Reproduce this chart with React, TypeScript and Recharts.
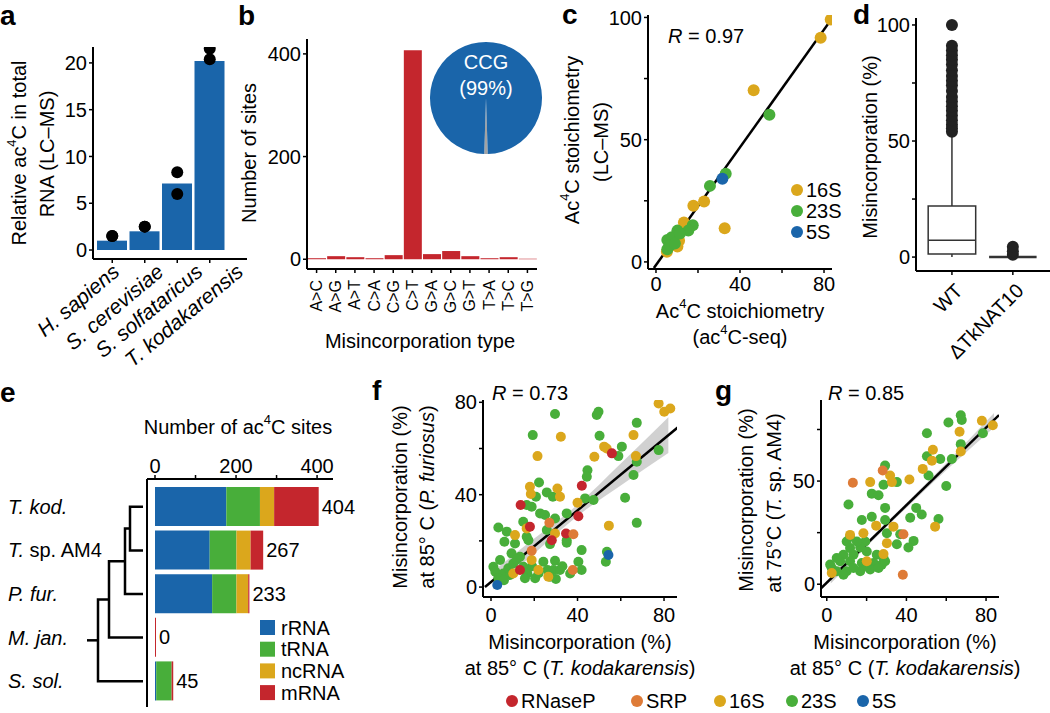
import React from 'react';
import {
  ComposedChart,
  BarChart,
  PieChart,
  Pie,
  Cell,
  Bar,
  Line,
  Area,
  Scatter,
  XAxis,
  YAxis,
  ReferenceArea,
  ReferenceLine,
  LabelList,
} from 'recharts';

const FONT = '"Liberation Sans", Arial, Helvetica, sans-serif';
const BLUE = '#1a65aa';
const RED = '#c4262d';
const GREEN = '#48ae3a';
const GOLD = '#dba71c';
const ORANGE = '#de7b37';

// ---- a: LC-MS ac4C levels
const speciesA = ['H. sapiens', 'S. cerevisiae', 'S. solfataricus', 'T. kodakarensis'];
const ac4cMean = [1.0, 2.0, 7.1, 20.2];
const ac4cRep1 = [1.5, 2.5, 8.3, 21.5];
const ac4cRep2 = [1.5, 2.5, 6.0, 20.4];

// ---- b: misincorporation types
const misTypes = ['A>C', 'A>G', 'A>T', 'C>A', 'C>G', 'C>T', 'G>A', 'G>C', 'G>T', 'T>A', 'T>C', 'T>G'];
const misCounts = [2, 6, 4, 2, 8, 407, 10, 16, 6, 2, 4, 1];
const motifNames = ['other', 'CCG'];
const motifShare = [1, 99];

// ---- c: stoichiometry, [ac4C-seq, LC-MS]
const c16S = [[83.2, 99.2], [78.4, 91.7], [46.5, 70.2], [22.9, 24.7], [17.8, 23], [32.7, 13.8], [13.3, 16.1], [11, 8.7], [10.2, 6.3], [5.2, 4.2]];
const c23S = [[54, 60.2], [33.2, 36.1], [25.7, 31.1], [17.5, 15], [15.4, 12.8], [10.2, 12.8], [5.4, 9], [7.5, 10.1], [5.4, 5.2], [6.8, 6.9], [9, 7.5], [11.4, 11.6]];
const c5S = [[31.6, 34]];
const cFit = [[-1, -2.5], [83.8, 99.6]];

// ---- d: boxplots [low, q1, median, q3, high]
const genotypes = ['WT', '\u0394TkNAT10'];
const boxStats = [[0, 1.3, 7.3, 22, 53], [0, 0, 0, 0, 0]];
const wtOutliers = [54, 55.5, 57, 59, 61, 63, 65, 67, 69, 71.5, 74, 76, 78, 80.5, 83, 85, 87, 89, 91, 100];
const mutOutliers = [1, 2.5, 4.5];

// ---- e: ac4C sites per species
const eSpecies = ['T. kod.', 'T. sp. AM4', 'P. fur.', 'M. jan.', 'S. sol.'];
const rRNA = [176, 135, 141, 0, 3];
const tRNA = [83, 66, 60, 0, 38];
const ncRNA = [35, 35, 29, 0, 0];
const mRNA = [110, 31, 3, 0, 4];
const siteTotals = [404, 267, 233, 0, 45];
// dendrogram merges: [child, child, height]; ids 0-4 leaves, 5+ merged nodes
const treeMerges = [[0, 1, 13], [5, 2, 18], [6, 3, 34], [7, 4, 45]];
const treeRootStub = 56;

// ---- f: P. furiosus vs T. kodakarensis
const f23S = [[29.6, 74.9], [49.7, 75.9], [48.9, 74.5], [67.4, 71.1], [19.3, 65.8], [50.2, 65.5], [60.5, 60.8], [58.9, 56.7], [77.5, 59.3], [67.4, 54.3], [44.6, 50.6], [44.3, 47.8], [65.9, 48.5], [22.2, 45.3], [25.8, 41], [28.6, 39.1], [20.8, 39.1], [43.5, 38.4], [47.4, 37.7], [62, 38.7], [16.5, 35.5], [18.8, 34.8], [22.7, 31.9], [25, 31.2], [35, 31.9], [67.4, 27.8], [14.9, 28.3], [29.6, 29.7], [3.4, 25.8], [7.3, 24], [16.5, 21.8], [25.8, 24.7], [6.2, 19.6], [11.1, 18.9], [17.3, 20.3], [27.3, 18.6], [35, 20.3], [35, 19.2], [41.9, 16], [9.5, 14.6], [13.4, 13.1], [4.2, 11.7], [1.1, 8.8], [2, 6.6], [5.7, 5.9], [8, 8.1], [10.3, 10.2], [15, 8.8], [16.8, 5.9], [20.4, 3.8], [24.2, 11], [26.1, 7.4], [29.6, 11.4], [28.9, 7.4], [31.9, 7.4], [27.3, 4.5], [36.6, 5.9], [40.4, 11], [41.9, 7.4], [53.1, 11], [53.6, 15.3], [15.7, 3.8], [3.4, 3.8], [8.8, 5.2], [12, 12], [6, 3], [19, 9], [22, 6], [33, 9], [30, 3.5]];
const f16S = [[77.5, 79.5], [80.1, 75.9], [82.9, 77.3], [32.3, 65.1], [21.5, 56.7], [65.9, 65.8], [52.3, 60.8], [53.5, 60], [47.8, 56.4], [67, 56.7], [18, 43.4], [30.7, 42.7], [31.9, 39.1], [18.4, 40.3], [40, 36.5], [54.5, 26.6], [11.1, 22.5], [16.5, 25.4], [29.6, 23.2], [18.8, 11.7], [21.9, 7.4], [10.3, 5.9], [26.5, 4.5]];
const fRNaseP = [[55.9, 57.9], [42, 43.9], [13.7, 35.5], [40.4, 30.7], [18, 26.1], [34.7, 23.2], [28.1, 20.3], [13.4, 7.4]];
const fSRP = [[27, 27.8], [38.1, 22.9], [37.8, 7.4], [18.8, 15.7]];
const f5S = [[54.3, 13.9], [2.9, 0.9]];
const fFit = [[-2.8, 0], [86.3, 69.1]];
const fBand = [[1, -1, 7], [20, 14.5, 21], [40, 30.8, 35.6], [60, 44, 53.5], [82, 58, 73.5]];

// ---- g: T. sp. AM4 vs T. kodakarensis
const g23S = [[67.3, 81.9], [67.8, 79.6], [61.1, 78.4], [50.3, 73.2], [78.4, 73.2], [67.3, 67.9], [50.3, 62], [57, 60.7], [62.8, 60.7], [51.1, 52.7], [60, 47.6], [29.3, 57.5], [35.2, 49.5], [28.5, 48.2], [22.6, 43.9], [26, 43.1], [10.9, 38.6], [29.3, 37], [44.9, 37], [47.7, 33.8], [41.9, 32.2], [17.6, 31.1], [22.6, 32.7], [29.3, 31.1], [56.1, 31.6], [11.7, 23.1], [30.2, 24.7], [36.9, 24.2], [43.6, 21], [41, 17.8], [35.2, 19.4], [19.3, 20.7], [16.8, 17.8], [11.7, 17.5], [8.4, 14.3], [13.4, 14.3], [20.1, 15.9], [25.1, 14.3], [28.5, 12.7], [6.7, 11.1], [11.7, 11.1], [17.6, 10.3], [23.5, 10.3], [27.6, 9.5], [2.5, 7.9], [5, 6.3], [10, 6.3], [16.8, 6.3], [21.8, 7.1], [26, 7.9], [1.7, 9.5], [8.4, 4.6], [13.4, 7.9], [20.1, 8.7], [29.3, 11.1], [5, 12.7], [10, 20.7], [15.1, 20.7]];
const g16S = [[77.9, 79.2], [83.4, 77.1], [66.7, 73.9], [67.3, 64.3], [53.3, 65.2], [52.8, 59.9], [48.2, 55.9], [41.5, 50.8], [31.8, 52.7], [32.7, 49.5], [21.8, 49.5], [54.4, 27.9], [24.8, 28.4], [18.4, 24.7], [30.2, 19.9], [20.1, 11.1], [28.5, 14.6], [11.7, 23.9], [33.5, 27.9], [2.5, 5.4]];
const gSRP = [[13.1, 49.2], [28.1, 55.1], [38.2, 4.6], [38.5, 24.2]];
const gFit = [[-2.9, -2], [86.5, 82]];
const gBand = [[2, 0.4, 4.8], [20, 18.2, 20.6], [40, 37, 39.4], [60, 55.2, 58.8], [84, 76, 83]];

const rnaClasses = ['RNaseP', 'SRP', '16S', '23S', '5S'];
const rnaColors = [RED, ORANGE, GOLD, GREEN, BLUE];

// helpers
const axisLine = { stroke: '#000', strokeWidth: 2 };
const tickLine = { stroke: '#000', strokeWidth: 1.5 };
const tickFont = { fill: '#000', fontSize: 20, fontFamily: FONT };
const only = (keep: number[]) => (v: number) => (keep.includes(v) ? String(v) : '');
const pts = (arr: number[][]) => arr.map(([x, y]) => ({ x, y }));
const band = (arr: number[][]) => arr.map(([x, lo, hi]) => ({ x, lo, hi }));
const dot = (r: number, fill: string) => (p: any) =>
  p.cx == null ? <g /> : <circle cx={p.cx} cy={p.cy} r={r} fill={fill} />;

let measureCtx: CanvasRenderingContext2D | null = null;
function textWidth(s: string, font: string) {
  if (!measureCtx) measureCtx = document.createElement('canvas').getContext('2d');
  if (!measureCtx) return s.length * 10;
  measureCtx.font = font;
  return measureCtx.measureText(s).width;
}

// species names: right end sits a bit further right for longer names (as in the figure)
function SpeciesTick(props: any) {
  const { x, y, payload } = props;
  const len = textWidth(payload.value, 'italic 21px "Liberation Sans"');
  const ex = x + 0.56 * len - 47;
  const ey = y + 9;
  return (
    <text x={ex} y={ey} transform={`rotate(-40 ${ex} ${ey})`} textAnchor="end" fontSize={21} fontStyle="italic" fontFamily={FONT} fill="#000">
      {payload.value}
    </text>
  );
}

function MisTick(props: any) {
  const { x, y, payload } = props;
  const ty = y + 5;
  return (
    <text x={x} y={ty} transform={`rotate(-90 ${x} ${ty})`} textAnchor="end" dominantBaseline="central" fontSize={16} fontFamily={FONT} fill="#000">
      {payload.value}
    </text>
  );
}

function GenoTick(props: any) {
  const { x, y, payload } = props;
  const ex = x + 12;
  const ey = y + 15;
  return (
    <text x={ex} y={ey} transform={`rotate(-45 ${ex} ${ey})`} textAnchor="end" fontSize={20} fontFamily={FONT} fill="#000">
      {genotypes[payload.value - 1]}
    </text>
  );
}

function LeafTick(props: any) {
  const { y, payload } = props;
  const name: string = payload.value;
  const sp = name.indexOf(' sp.');
  return (
    <text x={8} y={y} dominantBaseline="central" fontSize={20} fontFamily={FONT} fill="#000">
      {sp > 0 ? (
        <>
          <tspan fontStyle="italic">{name.slice(0, sp)}</tspan>
          <tspan>{name.slice(sp)}</tspan>
        </>
      ) : (
        <tspan fontStyle="italic">{name}</tspan>
      )}
    </text>
  );
}

const Sup4 = ({ size = 13, shift = 8 }: { size?: number; shift?: number }) => (
  <>
    <tspan dy={-shift} fontSize={size}>4</tspan>
    <tspan dy={shift}>C</tspan>
  </>
);

function Abs({ left, top, children }: { left: number; top: number; children: React.ReactNode }) {
  return <div style={{ position: 'absolute', left, top }}>{children}</div>;
}

function PanelA() {
  const data = speciesA.map((s, i) => ({ species: s, mean: ac4cMean[i], r1: ac4cRep1[i], r2: ac4cRep2[i] }));
  return (
    <ComposedChart width={260} height={390} data={data} margin={{ top: 47, right: 13, left: 0, bottom: 0 }}>
      <XAxis dataKey="species" height={131} padding={{ left: 3, right: 21 }} interval={0} axisLine={axisLine} tickLine={tickLine} tickSize={4} tick={<SpeciesTick />} />
      <YAxis width={93} domain={[-0.96, 21.7]} ticks={[0, 5, 10, 15, 20]} allowDataOverflow axisLine={axisLine} tickLine={tickLine} tickSize={4} tick={tickFont} />
      <Bar dataKey="mean" fill={BLUE} barSize={30} isAnimationActive={false} />
      <Scatter dataKey="r1" shape={dot(6, '#000')} isAnimationActive={false} />
      <Scatter dataKey="r2" shape={dot(6, '#000')} isAnimationActive={false} />
    </ComposedChart>
  );
}

function PanelB() {
  const data = misTypes.map((t, i) => ({ type: t, n: misCounts[i] }));
  return (
    <BarChart width={310} height={345} data={data} margin={{ top: 39, right: 13, left: 0, bottom: 0 }}>
      <XAxis dataKey="type" height={76} interval={0} axisLine={axisLine} tickLine={tickLine} tickSize={4} tick={<MisTick />} />
      <YAxis width={67} domain={[-19, 429]} ticks={[0, 200, 400]} allowDataOverflow axisLine={axisLine} tickLine={tickLine} tickSize={4} tick={tickFont} />
      <Bar dataKey="n" fill={RED} barSize={18} isAnimationActive={false} />
    </BarChart>
  );
}

function PanelBPie() {
  const data = motifNames.map((n, i) => ({ name: n, value: motifShare[i] }));
  return (
    <PieChart width={114} height={114} margin={{ top: 0, right: 0, left: 0, bottom: 0 }}>
      <Pie data={data} dataKey="value" cx={57} cy={57} outerRadius={56} startAngle={-91.8} endAngle={268.2} stroke="none" isAnimationActive={false}>
        <Cell fill="#a3a3a3" />
        <Cell fill={BLUE} />
      </Pie>
    </PieChart>
  );
}

function PanelC() {
  return (
    <ComposedChart width={285} height={345} margin={{ top: 15, right: 13, left: 0, bottom: 0 }}>
      <XAxis type="number" dataKey="x" domain={[-3.8, 83.8]} ticks={[0, 20, 40, 60, 80]} tickFormatter={only([0, 40, 80])} allowDataOverflow height={76} axisLine={axisLine} tickLine={tickLine} tickSize={4} tickMargin={4} tick={tickFont} />
      <YAxis type="number" domain={[-2.9, 101]} ticks={[0, 25, 50, 75, 100]} tickFormatter={only([0, 50, 100])} allowDataOverflow width={88} axisLine={axisLine} tickLine={tickLine} tickSize={4} tick={tickFont} />
      <Scatter data={pts(c16S)} dataKey="y" shape={dot(6, GOLD)} isAnimationActive={false} />
      <Scatter data={pts(c23S)} dataKey="y" shape={dot(6, GREEN)} isAnimationActive={false} />
      <Scatter data={pts(c5S)} dataKey="y" shape={dot(6, BLUE)} isAnimationActive={false} />
      <Line data={pts(cFit)} dataKey="y" stroke="#000" strokeWidth={2.5} dot={false} isAnimationActive={false} />
    </ComposedChart>
  );
}

function PanelD() {
  const wt = wtOutliers.map((y) => ({ x: 1, y }));
  const mut = mutOutliers.map((y) => ({ x: 2, y }));
  const hw = 0.39;
  return (
    <ComposedChart width={205} height={385} margin={{ top: 18, right: 0, left: 0, bottom: 0 }}>
      <XAxis type="number" dataKey="x" domain={[0.41, 2.61]} ticks={[1, 2]} allowDataOverflow height={114} axisLine={axisLine} tickLine={tickLine} tickSize={4} tick={<GenoTick />} />
      <YAxis type="number" domain={[-6, 103]} ticks={[0, 25, 50, 75, 100]} tickFormatter={only([0, 50, 100])} allowDataOverflow width={71} axisLine={axisLine} tickLine={tickLine} tickSize={4} tick={tickFont} />
      {boxStats.map(([lo, q1], i) => (
        <ReferenceLine key={'wl' + i} segment={[{ x: i + 1, y: lo }, { x: i + 1, y: q1 }]} stroke="#333" strokeWidth={1.5} />
      ))}
      {boxStats.map(([, , , q3, hi], i) => (
        <ReferenceLine key={'wh' + i} segment={[{ x: i + 1, y: q3 }, { x: i + 1, y: hi }]} stroke="#333" strokeWidth={1.5} />
      ))}
      {boxStats.map(([, q1, , q3], i) =>
        q3 > q1 ? (
          <ReferenceArea key={'b' + i} x1={i + 1 - hw} x2={i + 1 + hw} y1={q1} y2={q3} fill="#fff" fillOpacity={1} stroke="#333" strokeWidth={1.5} />
        ) : null
      )}
      {boxStats.map(([, , med], i) => (
        <ReferenceLine key={'m' + i} segment={[{ x: i + 1 - hw, y: med }, { x: i + 1 + hw, y: med }]} stroke="#333" strokeWidth={i === 0 ? 1.5 : 2.5} />
      ))}
      <Scatter data={wt} dataKey="y" shape={dot(6, '#222')} isAnimationActive={false} />
      <Scatter data={mut} dataKey="y" shape={dot(6, '#222')} isAnimationActive={false} />
    </ComposedChart>
  );
}

function PanelE() {
  const data = eSpecies.map((s, i) => ({ species: s, rRNA: rRNA[i], tRNA: tRNA[i], ncRNA: ncRNA[i], mRNA: mRNA[i], total: siteTotals[i] }));
  return (
    <BarChart layout="vertical" width={380} height={293} data={data} margin={{ top: 0, right: 47, left: 0, bottom: 6 }} barSize={39}>
      <XAxis type="number" orientation="top" height={59} domain={[-19.75, 439.3]} ticks={[0, 100, 200, 300, 400]} tickFormatter={only([0, 200, 400])} allowDataOverflow axisLine={axisLine} tickLine={tickLine} tickSize={4} tick={tickFont} />
      <YAxis type="category" dataKey="species" width={147} padding={{ top: 6, bottom: 4 }} interval={0} axisLine={axisLine} tickLine={false} tick={<LeafTick />} />
      <Bar dataKey="rRNA" stackId="s" fill={BLUE} isAnimationActive={false} />
      <Bar dataKey="tRNA" stackId="s" fill={GREEN} isAnimationActive={false} />
      <Bar dataKey="ncRNA" stackId="s" fill={GOLD} isAnimationActive={false} />
      <Bar dataKey="mRNA" stackId="s" fill={RED} minPointSize={1} isAnimationActive={false}>
        <LabelList
          dataKey="total"
          content={(p: any) => (
            <text x={p.x + p.width + 3} y={p.y + p.height / 2} dominantBaseline="central" fontSize={20} fontFamily={FONT} fill="#000">
              {p.value}
            </text>
          )}
        />
      </Bar>
    </BarChart>
  );
}

function Dendrogram() {
  const nodeY = eSpecies.map((_, i) => i);
  const nodeH = eSpecies.map(() => 0);
  const paths = treeMerges.map(([a, b, h]) => {
    const path = [
      { h: nodeH[a], y: nodeY[a] },
      { h, y: nodeY[a] },
      { h, y: nodeY[b] },
      { h: nodeH[b], y: nodeY[b] },
    ];
    nodeY.push((nodeY[a] + nodeY[b]) / 2);
    nodeH.push(h);
    return path;
  });
  const root = nodeY.length - 1;
  paths.push([
    { h: nodeH[root], y: nodeY[root] },
    { h: treeRootStub, y: nodeY[root] },
  ]);
  return (
    <ComposedChart width={147} height={293} margin={{ top: 59, right: 0, left: 0, bottom: 6 }}>
      <XAxis type="number" dataKey="h" domain={[-4, 143]} reversed hide allowDataOverflow />
      <YAxis type="number" domain={[-0.5, 4.5]} reversed hide allowDataOverflow padding={{ top: 6, bottom: 4 }} />
      {paths.map((p, i) => (
        <Line key={i} data={p} dataKey="y" type="linear" stroke="#000" strokeWidth={2.5} dot={false} isAnimationActive={false} />
      ))}
    </ComposedChart>
  );
}

function CorrPanel(props: {
  series: { data: number[][]; color: string }[];
  fit: number[][];
  bandData: number[][];
  xDomain: number[];
  yDomain: number[];
  yTicks: number[];
  yLabels: number[];
  yWidth: number;
  right: number;
}) {
  const { series, fit, bandData, xDomain, yDomain, yTicks, yLabels, yWidth, right } = props;
  return (
    <ComposedChart width={300} height={270} margin={{ top: 30, right, left: 0, bottom: 0 }}>
      <XAxis type="number" dataKey="x" domain={xDomain} ticks={[0, 20, 40, 60, 80]} tickFormatter={only([0, 40, 80])} allowDataOverflow height={43} axisLine={axisLine} tickLine={tickLine} tickSize={4} tickMargin={7} tick={tickFont} />
      <YAxis type="number" domain={yDomain} ticks={yTicks} tickFormatter={only(yLabels)} allowDataOverflow width={yWidth} axisLine={axisLine} tickLine={tickLine} tickSize={4} tick={tickFont} />
      {series.map((s, i) => (
        <Scatter key={i} data={pts(s.data)} dataKey="y" shape={dot(5, s.color)} isAnimationActive={false} />
      ))}
      <Area data={band(bandData)} dataKey={(d: any) => [d.lo, d.hi]} type="monotone" stroke="none" fill="#9a9a9a" fillOpacity={0.45} isAnimationActive={false} />
      <Line data={pts(fit)} dataKey="y" stroke="#000" strokeWidth={2.5} dot={false} isAnimationActive={false} />
    </ComposedChart>
  );
}

function Overlay() {
  const letter = (ch: string, x: number, y: number) => (
    <text x={x} y={y} fontSize={28} fontWeight="bold" fontFamily={FONT}>{ch}</text>
  );
  const vtext = (cx: number, cy: number, content: React.ReactNode) => (
    <text transform={`translate(${cx},${cy}) rotate(-90)`} textAnchor="middle" dominantBaseline="central" fontSize={20} fontFamily={FONT}>
      {content}
    </text>
  );
  const htext = (cx: number, cy: number, content: React.ReactNode, anchor = 'middle') => (
    <text x={cx} y={cy} textAnchor={anchor} dominantBaseline="central" fontSize={20} fontFamily={FONT}>
      {content}
    </text>
  );
  const legendX = [512, 637, 720, 792, 863];
  const cLegend = [['16S', GOLD], ['23S', GREEN], ['5S', BLUE]];
  return (
    <svg width={1050} height={713} style={{ position: 'absolute', left: 0, top: 0, pointerEvents: 'none' }} fill="#000">
      {letter('a', 0, 25)}
      {letter('b', 238, 25)}
      {letter('c', 562, 24)}
      {letter('d', 853, 24)}
      {letter('e', 0, 402)}
      {letter('f', 372, 400)}
      {letter('g', 715, 400)}

      {vtext(19, 153, <>Relative ac<Sup4 /> in total</>)}
      {vtext(47, 154, 'RNA (LC\u2013MS)')}

      {vtext(249, 153, 'Number of sites')}
      {htext(420, 341, 'Misincorporation type')}
      <text x={486} y={62} textAnchor="middle" dominantBaseline="central" fontSize={20} fontFamily={FONT} fill="#fff">CCG</text>
      <text x={486} y={88} textAnchor="middle" dominantBaseline="central" fontSize={20} fontFamily={FONT} fill="#fff">(99%)</text>

      {vtext(572, 140, <>Ac<Sup4 /> stoichiometry</>)}
      {vtext(601, 142, '(LC\u2013MS)')}
      {htext(740, 311, <>Ac<Sup4 /> stoichiometry</>)}
      {htext(740, 337, <>(ac<Sup4 />-seq)</>)}
      {htext(668, 36, <><tspan fontStyle="italic">R</tspan> = 0.97</>, 'start')}
      {cLegend.map(([name, col], i) => (
        <g key={name}>
          <circle cx={797} cy={190 + i * 21} r={6} fill={col} />
          {htext(806, 190 + i * 21, name, 'start')}
        </g>
      ))}

      {vtext(870, 147, 'Misincorporation (%)')}

      {htext(238, 427, <>Number of ac<Sup4 /> sites</>)}
      {[['rRNA', BLUE], ['tRNA', GREEN], ['ncRNA', GOLD], ['mRNA', RED]].map(([name, col], i) => (
        <g key={name}>
          <rect x={260} y={620 + i * 21.7} width={15} height={15} fill={col} />
          {htext(281, 627.5 + i * 21.7, name, 'start')}
        </g>
      ))}

      {vtext(400, 497, 'Misincorporation (%)')}
      {vtext(427, 497, <>at 85° C (<tspan fontStyle="italic">P. furiosus</tspan>)</>)}
      {htext(492, 393, <><tspan fontStyle="italic">R</tspan> = 0.73</>, 'start')}
      {htext(580, 642, 'Misincorporation (%)')}
      {htext(580, 668, <>at 85° C (<tspan fontStyle="italic">T. kodakarensis</tspan>)</>)}

      {vtext(746, 500, 'Misincorporation (%)')}
      {vtext(774, 503, <>at 75°C (<tspan fontStyle="italic">T.</tspan> sp. AM4)</>)}
      {htext(828, 393, <><tspan fontStyle="italic">R</tspan> = 0.85</>, 'start')}
      {htext(905, 642, 'Misincorporation (%)')}
      {htext(905, 668, <>at 85° C (<tspan fontStyle="italic">T. kodakarensis</tspan>)</>)}

      {rnaClasses.map((name, i) => (
        <g key={name}>
          <circle cx={legendX[i]} cy={701} r={6} fill={rnaColors[i]} />
          {htext(legendX[i] + 9, 701, name, 'start')}
        </g>
      ))}
    </svg>
  );
}

export default function App() {
  return (
    <div style={{ position: 'absolute', left: 0, top: 0, width: 1050, height: 713, background: '#fff', fontFamily: FONT, overflow: 'hidden' }}>
      <Abs left={0} top={0}><PanelA /></Abs>
      <Abs left={240} top={0}><PanelB /></Abs>
      <Abs left={429} top={41}><PanelBPie /></Abs>
      <Abs left={560} top={0}><PanelC /></Abs>
      <Abs left={845} top={0}><PanelD /></Abs>
      <Abs left={0} top={420}><PanelE /></Abs>
      <Abs left={0} top={420}><Dendrogram /></Abs>
      <Abs left={390} top={370}>
        <CorrPanel
          series={[
            { data: f23S, color: GREEN },
            { data: f16S, color: GOLD },
            { data: fRNaseP, color: RED },
            { data: fSRP, color: ORANGE },
            { data: f5S, color: BLUE },
          ]}
          fit={fFit}
          bandData={fBand}
          xDomain={[-3.7, 86]}
          yDomain={[-4.3, 81]}
          yTicks={[0, 20, 40, 60, 80]}
          yLabels={[0, 40, 80]}
          yWidth={93}
          right={13}
        />
      </Abs>
      <Abs left={730} top={370}>
        <CorrPanel
          series={[
            { data: g23S, color: GREEN },
            { data: g16S, color: GOLD },
            { data: gSRP, color: ORANGE },
          ]}
          fit={gFit}
          bandData={gBand}
          xDomain={[-2.9, 86.5]}
          yDomain={[-6.2, 89.3]}
          yTicks={[0, 25, 50, 75]}
          yLabels={[0, 50]}
          yWidth={91}
          right={31}
        />
      </Abs>
      <Overlay />
    </div>
  );
}
